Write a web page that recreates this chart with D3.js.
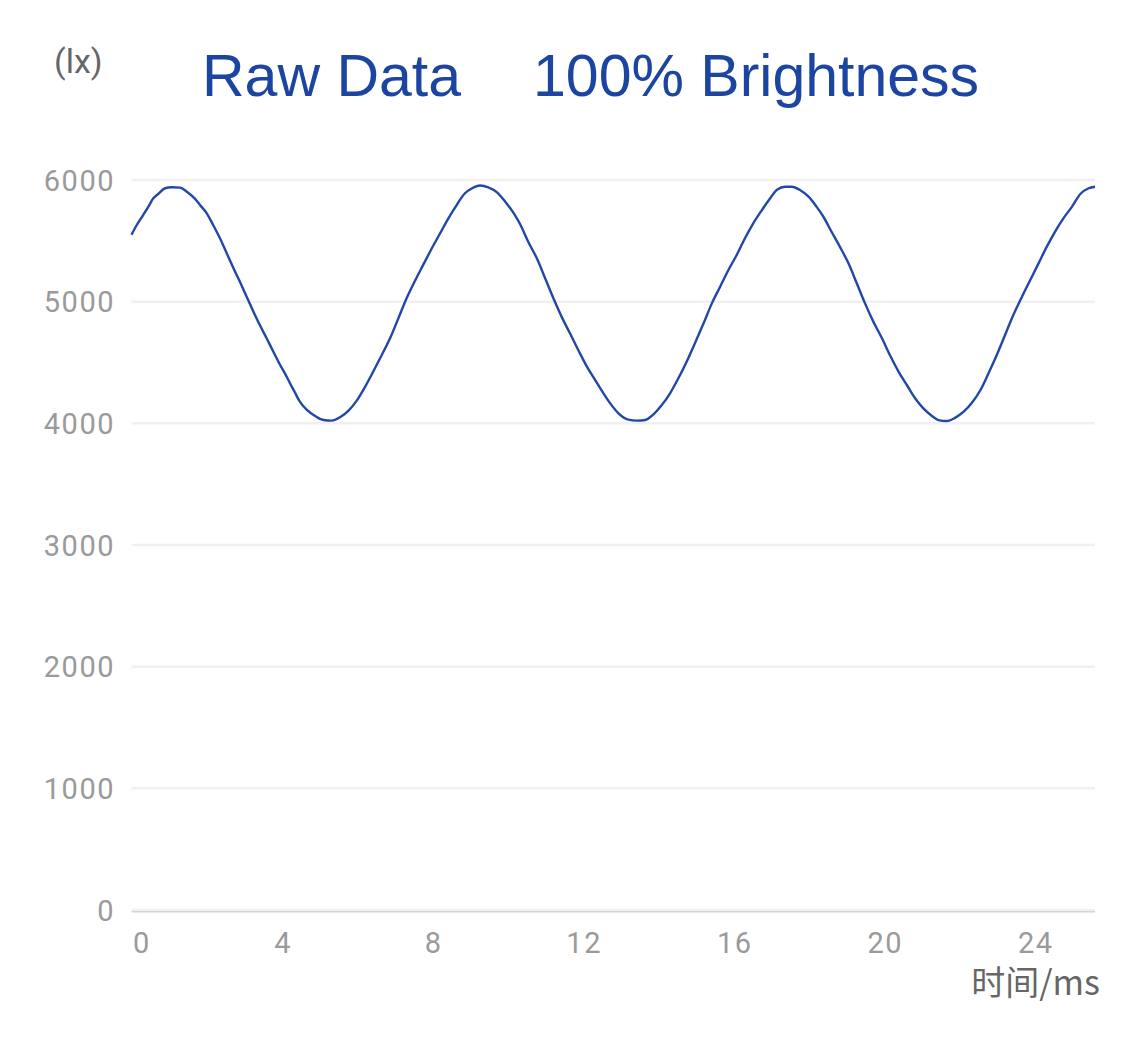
<!DOCTYPE html>
<html>
<head>
<meta charset="utf-8">
<script src="https://cdn.jsdelivr.net/npm/d3@7"></script>
<style>
  html, body { margin: 0; padding: 0; background: #fff; }
  svg { display: block; }
</style>
</head>
<body>
<svg id="chart" width="1125" height="1040"></svg>
<script>
// ---- data ----
const titleParts = ["Raw Data", "100% Brightness"];
const yUnit = "(lx)";
const xUnit = "时间/ms";
const yTicks = [0, 1000, 2000, 3000, 4000, 5000, 6000];
const xTicks = [0, 4, 8, 12, 16, 20, 24];
const timeMs = [
  0.00, 0.14, 0.31, 0.45, 0.58, 0.71, 0.89, 1.07, 1.29, 1.47,
  1.69, 1.82, 2.00, 2.17, 2.35, 2.53, 2.71, 2.88, 3.06, 3.24,
  3.41, 3.59, 3.77, 3.95, 4.12, 4.21, 4.34, 4.46, 4.66, 4.88,
  5.10, 5.32, 5.54, 5.76, 5.98, 6.21, 6.43, 6.65, 6.87, 7.09,
  7.31, 7.53, 7.75, 7.98, 8.20, 8.42, 8.60, 8.86, 9.04, 9.26,
  9.48, 9.71, 9.93, 10.15, 10.32, 10.54, 10.77, 10.99, 11.21, 11.43,
  11.65, 11.87, 12.10, 12.32, 12.54, 12.72, 12.94, 13.20, 13.43, 13.65,
  13.87, 14.09, 14.31, 14.53, 14.75, 14.97, 15.20, 15.42, 15.64, 15.86,
  16.08, 16.30, 16.52, 16.75, 16.97, 17.15, 17.37, 17.54, 17.76, 17.99,
  18.21, 18.38, 18.60, 18.82, 19.05, 19.27, 19.49, 19.71, 19.94, 20.16,
  20.38, 20.60, 20.82, 21.04, 21.27, 21.44, 21.66, 21.88, 22.11, 22.33,
  22.55, 22.77, 22.99, 23.21, 23.43, 23.66, 23.88, 24.10, 24.32, 24.54,
  24.76, 24.99, 25.21, 25.43, 25.60
];
const lux = [
  5550, 5630, 5712, 5781, 5850, 5885, 5932, 5940, 5937, 5904,
  5845, 5795, 5726, 5630, 5521, 5398, 5274, 5164, 5041, 4918,
  4808, 4699, 4589, 4479, 4385, 4330, 4255, 4185, 4110, 4060,
  4027, 4022, 4050, 4103, 4185, 4302, 4430, 4562, 4699, 4863,
  5028, 5170, 5302, 5439, 5562, 5685, 5775, 5891, 5930, 5955,
  5940, 5899, 5822, 5730, 5640, 5493, 5356, 5192, 5028, 4875,
  4740, 4603, 4466, 4356, 4247, 4164, 4082, 4030, 4022, 4027,
  4074, 4150, 4247, 4370, 4507, 4658, 4822, 4986, 5123, 5260,
  5384, 5521, 5644, 5753, 5850, 5920, 5945, 5945, 5918, 5863,
  5777, 5700, 5575, 5452, 5315, 5151, 4986, 4836, 4699, 4555,
  4425, 4315, 4206, 4123, 4060, 4027, 4019, 4045, 4096, 4170,
  4270, 4411, 4562, 4726, 4890, 5041, 5178, 5315, 5452, 5576,
  5685, 5781, 5885, 5932, 5945
];

// ---- layout ----
const svg = d3.select("#chart");
const plotLeft = 131.5, plotRight = 1095, plotTop = 180, plotBottom = 910;

const x = d3.scaleLinear().domain([0, 25.6]).range([plotLeft, plotRight]);
const y = d3.scaleLinear().domain([0, 6000]).range([plotBottom, plotTop]);

// grid lines
svg.append("g")
  .selectAll("line")
  .data(yTicks)
  .join("line")
  .attr("x1", plotLeft).attr("x2", plotRight)
  .attr("y1", d => y(d)).attr("y2", d => y(d))
  .attr("stroke", "#f0f0f0")
  .attr("stroke-width", 2.5);

// x axis line
svg.append("line")
  .attr("x1", plotLeft).attr("x2", plotRight)
  .attr("y1", y(0) + 1.8).attr("y2", y(0) + 1.8)
  .attr("stroke", "#d4d4d4")
  .attr("stroke-width", 1.5);

// y tick labels
svg.append("g")
  .selectAll("text")
  .data(yTicks)
  .join("text")
  .attr("x", 115)
  .attr("y", d => y(d) + 10.5)
  .attr("text-anchor", "end")
  .attr("font-family", "Roboto, 'Noto Sans', sans-serif")
  .attr("font-size", 29)
  .attr("letter-spacing", 1.5)
  .attr("fill", "#9a9a9a")
  .text(d => d);

// x tick labels
svg.append("g")
  .selectAll("text")
  .data(xTicks)
  .join("text")
  .attr("x", d => d === 0 ? x(d) + 1.5 : x(d) + 1)
  .attr("y", 953)
  .attr("text-anchor", d => d === 0 ? "start" : "middle")
  .attr("font-family", "Roboto, 'Noto Sans', sans-serif")
  .attr("font-size", 29)
  .attr("letter-spacing", 1.5)
  .attr("fill", "#9a9a9a")
  .text(d => d);

// line
const data = timeMs.map((t, i) => ({ t, v: lux[i] }));
svg.append("path")
  .datum(data)
  .attr("fill", "none")
  .attr("stroke", "#2247a6")
  .attr("stroke-width", 2.4)
  .attr("stroke-linejoin", "round")
  .attr("d", d3.line().x(d => x(d.t)).y(d => y(d.v)).curve(d3.curveMonotoneX));

// unit labels
svg.append("text")
  .attr("x", 54).attr("y", 73)
  .attr("font-family", "Roboto, 'Noto Sans', sans-serif")
  .attr("font-size", 34)
  .attr("fill", "#666")
  .text(yUnit);

svg.append("text")
  .attr("x", 1100).attr("y", 995)
  .attr("text-anchor", "end")
  .attr("font-family", "'Noto Sans CJK SC', 'Noto Sans', sans-serif")
  .attr("font-size", 34)
  .attr("fill", "#666")
  .text(xUnit);

// title
svg.append("text")
  .attr("x", 202).attr("y", 96)
  .attr("font-family", "'Liberation Sans', Arial, sans-serif")
  .attr("font-size", 59)
  .attr("fill", "#1c45a2")
  .text(titleParts[0]);
svg.append("text")
  .attr("x", 533).attr("y", 96)
  .attr("font-family", "'Liberation Sans', Arial, sans-serif")
  .attr("font-size", 59)
  .attr("fill", "#1c45a2")
  .text(titleParts[1]);
</script>
</body>
</html>
